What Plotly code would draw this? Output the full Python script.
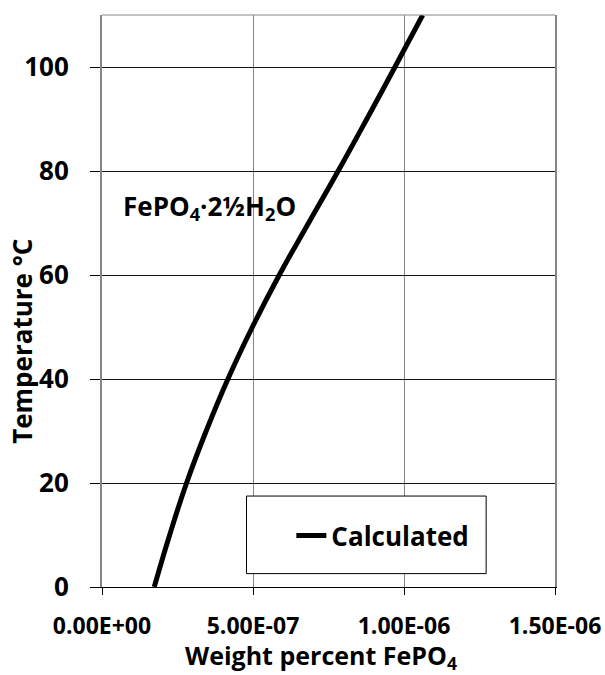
import plotly.graph_objects as go

# Solubility of FePO4·2½H2O versus temperature
temperature_c = [0, 10, 20, 30, 40, 50, 60, 70, 80, 90, 100, 110]
weight_pct = [1.73e-7, 2.24e-7, 2.80e-7, 3.45e-7, 4.17e-7, 4.98e-7,
              5.87e-7, 6.84e-7, 7.82e-7, 8.77e-7, 9.70e-7, 1.062e-6]

x_tickvals = [0, 5e-7, 1e-6, 1.5e-6]
x_ticktext = ["0.00E+00", "5.00E-07", "1.00E-06", "1.50E-06"]
y_tickvals = [0, 20, 40, 60, 80, 100]

FONT = "Open Sans"
GRID_GRAY = "#868686"

fig = go.Figure()
fig.add_trace(go.Scatter(
    x=weight_pct, y=temperature_c, mode="lines", name="Calculated",
    line=dict(color="black", width=5, shape="spline", smoothing=1.3),
))

fig.update_layout(
    width=605, height=675,
    margin=dict(l=102, r=50, t=15, b=88, autoexpand=False),
    paper_bgcolor="white", plot_bgcolor="white",
    font=dict(family=FONT, color="black", weight="bold"),
    showlegend=True,
    legend=dict(
        x=0.418, y=0.09, xanchor="left", yanchor="middle",
        bgcolor="rgba(0,0,0,0)", borderwidth=0,
        font=dict(family=FONT, size=26, color="black", weight="bold"),
    ),
    xaxis=dict(
        range=[0, 1.5e-6], tickvals=x_tickvals, ticktext=x_ticktext,
        automargin=False,
        showgrid=True, gridcolor=GRID_GRAY, gridwidth=1,
        showline=True, linecolor="black", linewidth=1, mirror=False,
        ticks="outside", ticklen=7, tickcolor="black",
        tickfont=dict(family=FONT, size=23, weight="bold"),
        ticklabelstandoff=11,
        zeroline=False,
    ),
    yaxis=dict(
        range=[0, 110], tickvals=y_tickvals,
        automargin=False,
        showgrid=True, gridcolor="#111111", gridwidth=1,
        showline=True, linecolor=GRID_GRAY, linewidth=2, mirror=True,
        ticks="outside", ticklen=10, tickcolor="black",
        tickfont=dict(family=FONT, size=26, weight="bold"),
        ticklabelstandoff=16,
        zeroline=False,
    ),
)

# top border of the plot frame
fig.add_shape(type="line", xref="paper", yref="paper", x0=0, x1=1, y0=1, y1=1,
              line=dict(color=GRID_GRAY, width=1))

# legend frame
fig.add_shape(type="rect", xref="paper", yref="paper",
              x0=0.319, x1=0.848, y0=0.0234, y1=0.159,
              line=dict(color="black", width=1), fillcolor="white", layer="above")

# axis titles
fig.add_annotation(
    text="Weight percent FePO<sub>4</sub>", xref="paper", yref="paper",
    x=0.483, y=-0.122, xanchor="center", yanchor="middle", showarrow=False,
    font=dict(family=FONT, size=25, weight="bold"),
)
fig.add_annotation(
    text="Temperature °C", xref="paper", yref="paper", textangle=-90,
    x=-0.177, y=0.43, xanchor="center", yanchor="middle", showarrow=False,
    font=dict(family=FONT, size=26, weight="bold"),
)

# compound label
fig.add_annotation(
    text="FePO<sub>4</sub>·2½H<sub>2</sub>O", x=6.3e-8, y=73,
    xanchor="left", yanchor="middle", showarrow=False,
    font=dict(family=FONT, size=26, weight="bold"),
)

fig.write_html("out.html")
